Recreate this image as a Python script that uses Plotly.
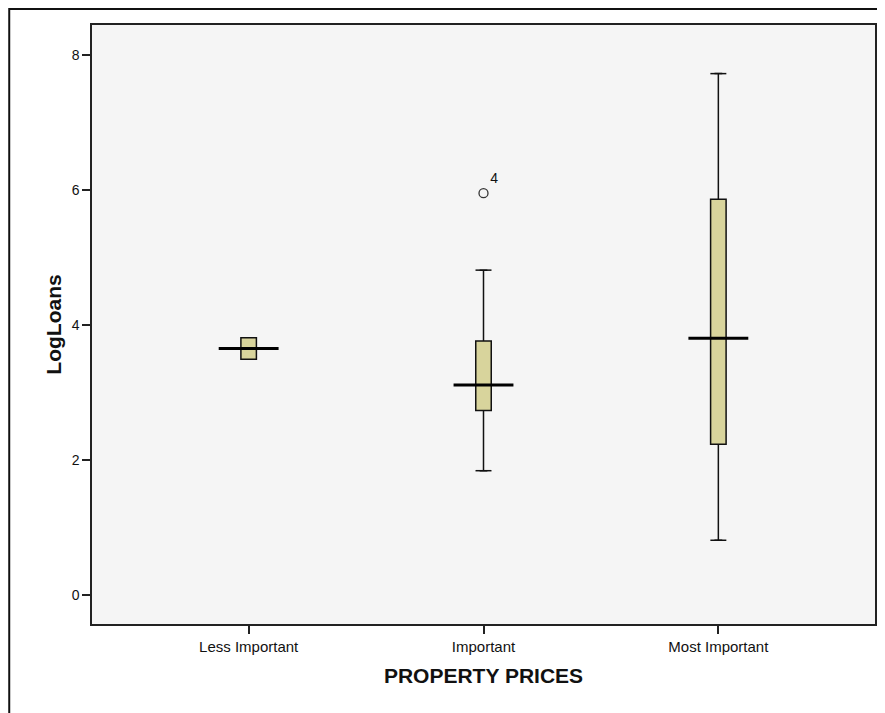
import plotly.graph_objects as go

# ---- data ----
categories = ["Less Important", "Important", "Most Important"]
q1_vals = [3.49, 2.73, 2.23]
median_vals = [3.65, 3.11, 3.80]
q3_vals = [3.81, 3.76, 5.86]
lower_whisker = [3.49, 1.84, 0.81]
upper_whisker = [3.81, 4.81, 7.72]
outlier_cat = [1]
outlier_vals = [5.95]
outlier_labels = ["4"]
y_ticks = [0, 2, 4, 6, 8]

# ---- style ----
BOX_W = 0.066
CAP_W = 0.068
MED_W = 0.255
FILL = "#D8D49C"
FONT = "Liberation Sans, Arial, sans-serif"

pos = list(range(len(categories)))

fig = go.Figure()

fig.add_trace(go.Box(
    x=pos, q1=q1_vals, median=median_vals, q3=q3_vals,
    lowerfence=lower_whisker, upperfence=upper_whisker,
    width=BOX_W, fillcolor=FILL,
    line=dict(color="#111111", width=1.5),
    boxpoints=False, hoverinfo="skip", showlegend=False,
))

# whisker caps
cx, cy = [], []
for p, lo, hi, a, b in zip(pos, lower_whisker, upper_whisker, q1_vals, q3_vals):
    if hi > b:
        cx += [p - CAP_W / 2, p + CAP_W / 2, None]
        cy += [hi, hi, None]
    if lo < a:
        cx += [p - CAP_W / 2, p + CAP_W / 2, None]
        cy += [lo, lo, None]
fig.add_trace(go.Scatter(x=cx, y=cy, mode="lines",
                         line=dict(color="#111111", width=1.5),
                         hoverinfo="skip", showlegend=False))

# wide median lines
mx, my = [], []
for p, m in zip(pos, median_vals):
    mx += [p - MED_W / 2, p + MED_W / 2, None]
    my += [m, m, None]
fig.add_trace(go.Scatter(x=mx, y=my, mode="lines",
                         line=dict(color="#000000", width=3),
                         hoverinfo="skip", showlegend=False))

# outlier
fig.add_trace(go.Scatter(
    x=outlier_cat, y=outlier_vals, mode="markers+text",
    marker=dict(symbol="circle-open", size=9, color="#333333",
                line=dict(width=1.3, color="#333333")),
    text=outlier_labels, textposition="top right",
    textfont=dict(family=FONT, size=14, color="#111111"),
    hoverinfo="skip", showlegend=False,
))

# outer frame of the chart
fig.add_shape(type="rect", xref="paper", yref="paper",
              x0=-0.1057, x1=1.05, y0=-0.2, y1=1.0267,
              line=dict(color="#111111", width=2), fillcolor="rgba(0,0,0,0)",
              layer="above")

fig.update_layout(
    width=877, height=705,
    margin=dict(l=84, r=8, t=17, b=89),
    paper_bgcolor="white",
    plot_bgcolor="#F5F5F5",
    font=dict(family=FONT, color="#111111"),
    showlegend=False,
)

fig.update_xaxes(
    range=[-0.667, 2.667],
    tickmode="array", tickvals=pos, ticktext=categories,
    ticks="outside", ticklen=8, tickwidth=1.5, tickcolor="#222222",
    tickfont=dict(family=FONT, size=15, color="#111111"),
    showline=True, mirror=True, linecolor="#222222", linewidth=1.5,
    showgrid=False, zeroline=False,
    title=dict(text="<b>PROPERTY PRICES</b>", standoff=15,
               font=dict(family=FONT, size=21, color="#111111")),
)
fig.update_yaxes(
    range=[-0.43, 8.44],
    tickmode="array", tickvals=y_ticks,
    ticks="outside", ticklen=8, tickwidth=1.5, tickcolor="#222222",
    tickfont=dict(family=FONT, size=14, color="#111111"),
    showline=True, mirror=True, linecolor="#222222", linewidth=1.5,
    showgrid=False, zeroline=False,
    title=dict(text="<b>LogLoans</b>", standoff=4,
               font=dict(family=FONT, size=21, color="#111111")),
)

fig.write_html("out.html")
